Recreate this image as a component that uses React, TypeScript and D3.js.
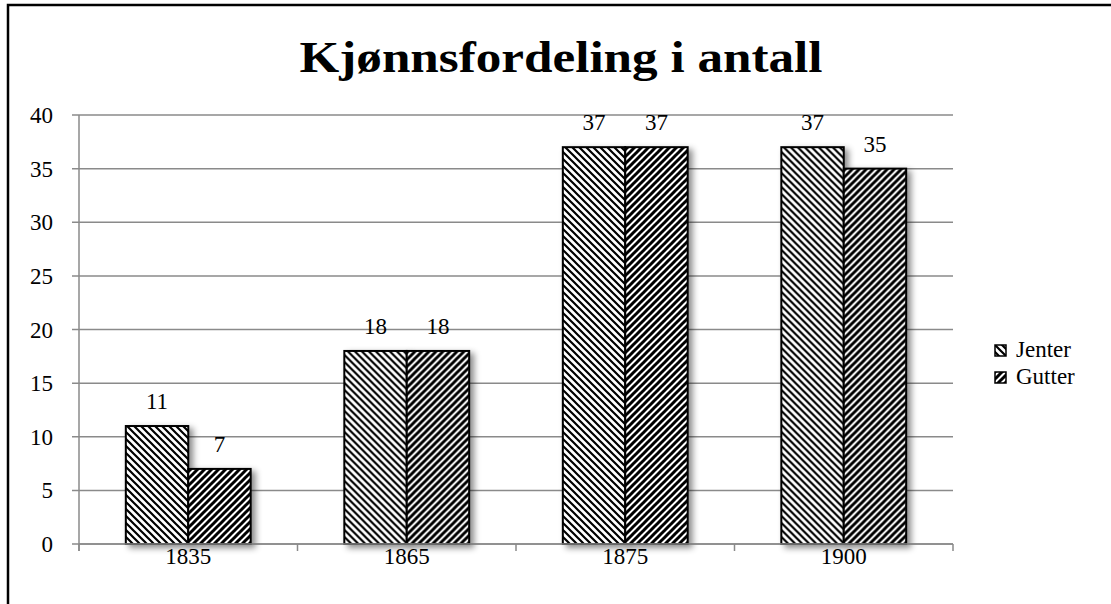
import React from 'react';
import * as d3 from 'd3';

// data
const years = ['1835', '1865', '1875', '1900'];
const series = ['Jenter', 'Gutter'];
const jenter = [11, 18, 37, 37];
const gutter = [7, 18, 37, 35];
const yTicks = [0, 5, 10, 15, 20, 25, 30, 35, 40];

const W = 1111;
const H = 604;
const plot = { left: 79, right: 953, top: 115, bottom: 544 };
const gridColor = '#8a8a8a';
const font = '"Liberation Serif", "Times New Roman", serif';
const fs = 23;

const App = () => {
  const x0 = d3.scaleBand().domain(years).range([plot.left, plot.right]).padding(0);
  const x1 = d3
    .scaleBand()
    .domain(series)
    .range([0, x0.bandwidth()])
    .paddingInner(0)
    .paddingOuter(0.75);
  const y = d3.scaleLinear().domain([0, 40]).range([plot.bottom, plot.top]);

  const values = { Jenter: jenter, Gutter: gutter };
  const boundaries = [...years.map((d) => x0(d)), plot.right];

  return (
    <svg width={W} height={H} style={{ position: 'absolute', left: 0, top: 0 }}>
      <defs>
        <pattern id="pJenter" patternUnits="userSpaceOnUse" width={7} height={7}>
          <rect width={7} height={7} fill="#fff" />
          <path d="M-1,-1 L8,8 M-1,6 L1,8 M6,-1 L8,1" stroke="#000" strokeWidth={2.2} />
        </pattern>
        <pattern id="pGutter" patternUnits="userSpaceOnUse" width={7} height={7}>
          <rect width={7} height={7} fill="#fff" />
          <path d="M-1,8 L8,-1 M-1,1 L1,-1 M6,8 L8,6" stroke="#000" strokeWidth={3} />
        </pattern>
        <filter id="shadow" x="-20%" y="-20%" width="160%" height="140%">
          <feDropShadow dx={4} dy={3} stdDeviation={3} floodColor="#000" floodOpacity={0.45} />
        </filter>
      </defs>

      <rect x={0} y={0} width={W} height={H} fill="#fff" />
      {/* chart frame, cut off at right and bottom */}
      <rect x={8} y={5} width={W + 20} height={H + 20} fill="none" stroke="#000" strokeWidth={2.5} />

      <text
        x={561}
        y={72}
        textAnchor="middle"
        fontFamily={font}
        fontWeight="bold"
        fontSize={44}
        textLength={523}
        lengthAdjust="spacingAndGlyphs"
      >
        Kjønnsfordeling i antall
      </text>

      {/* grid + y axis */}
      {yTicks.map((t) => (
        <g key={t}>
          <line x1={plot.left - 7} x2={plot.right} y1={y(t)} y2={y(t)} stroke={gridColor} strokeWidth={1.5} />
          <text x={53} y={y(t) + 8} textAnchor="end" fontFamily={font} fontSize={fs}>
            {t}
          </text>
        </g>
      ))}
      <line x1={plot.left} x2={plot.left} y1={plot.top} y2={plot.bottom + 7} stroke={gridColor} strokeWidth={1.5} />
      {boundaries.map((bx, i) => (
        <line key={i} x1={bx} x2={bx} y1={plot.bottom} y2={plot.bottom + 7} stroke={gridColor} strokeWidth={1.5} />
      ))}

      {/* bars */}
      {years.map((yr, i) => (
        <g key={yr} transform={`translate(${x0(yr)},0)`}>
          {series.map((s) => {
            const v = values[s][i];
            return (
              <rect
                key={s}
                x={x1(s)}
                y={y(v)}
                width={x1.bandwidth()}
                height={plot.bottom - y(v)}
                fill={`url(#p${s})`}
                stroke="#000"
                strokeWidth={2}
                filter="url(#shadow)"
              />
            );
          })}
          {series.map((s) => {
            const v = values[s][i];
            return (
              <text
                key={s}
                x={x1(s) + x1.bandwidth() / 2}
                y={y(v) - 17}
                textAnchor="middle"
                fontFamily={font}
                fontSize={fs}
              >
                {v}
              </text>
            );
          })}
          <text x={x0.bandwidth() / 2} y={564} textAnchor="middle" fontFamily={font} fontSize={fs}>
            {yr}
          </text>
        </g>
      ))}
      <line x1={plot.left} x2={plot.right} y1={plot.bottom} y2={plot.bottom} stroke={gridColor} strokeWidth={1.5} />

      {/* legend */}
      {series.map((s, i) => (
        <g key={s} transform={`translate(995,${345 + i * 27})`}>
          <rect x={0} y={0} width={11} height={11} fill={`url(#p${s})`} stroke="#000" strokeWidth={1.5} />
          <text x={21} y={12} fontFamily={font} fontSize={fs}>
            {s}
          </text>
        </g>
      ))}
    </svg>
  );
};

export default App;
